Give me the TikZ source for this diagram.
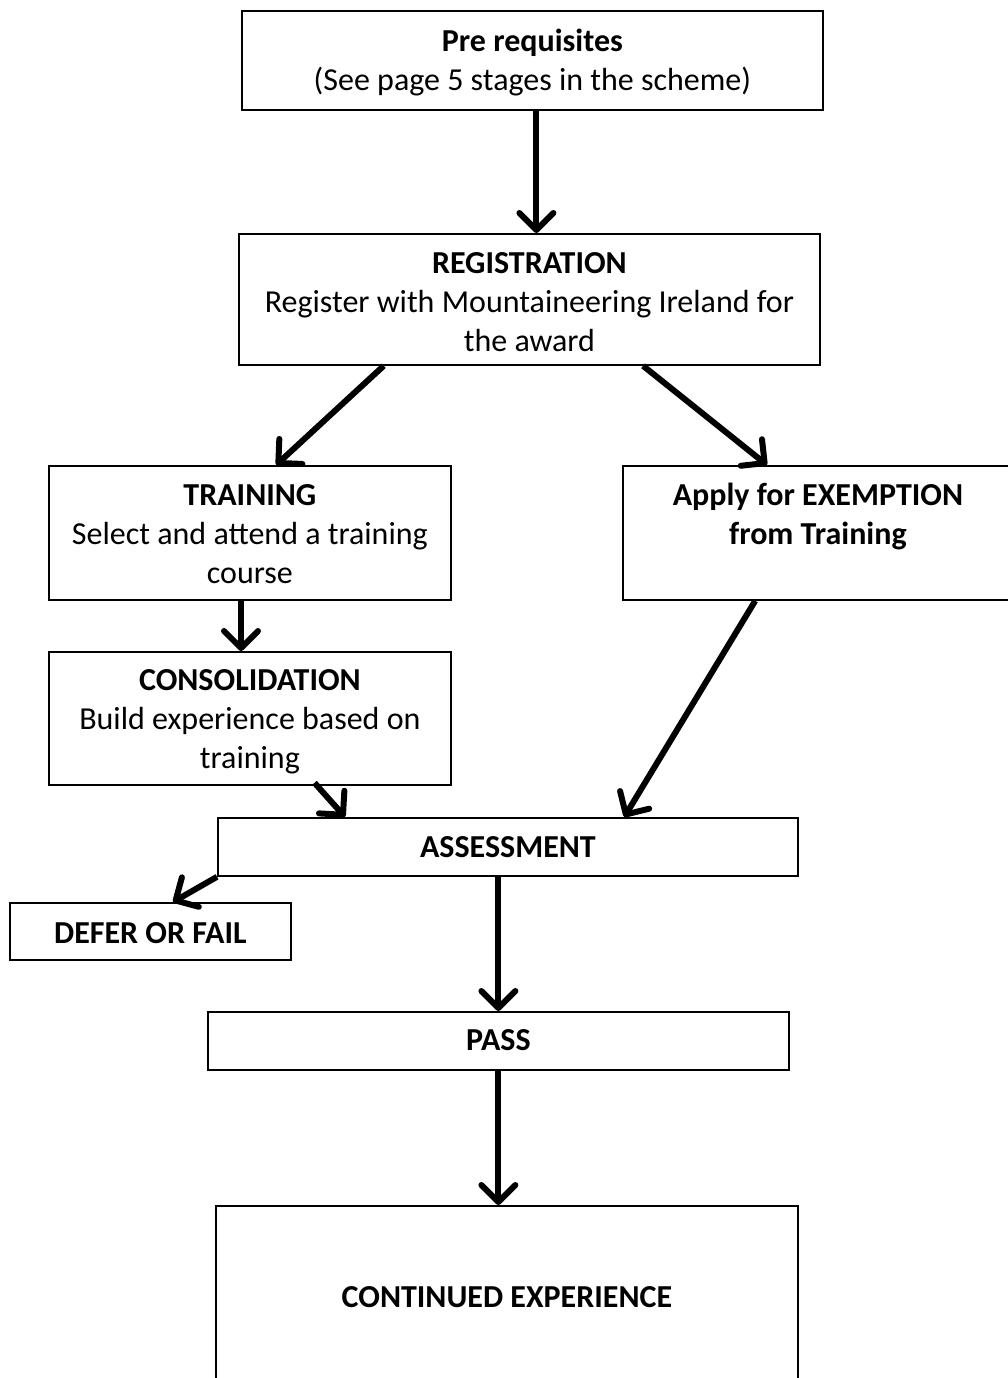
\documentclass[tikz,border=0pt]{standalone}
\usepackage{fontspec}
\setmainfont{Carlito}
\usetikzlibrary{calc, arrows.meta}

\tikzset{
  stage/.style={draw, line width=1.8pt, anchor=north west, align=center, inner sep=0pt,
    font=\fontsize{32}{39}\selectfont},
  flow/.style={line width=6pt, -{Straight Barb[length=17pt, width=34pt, round]}}
}

\begin{document}
\begin{tikzpicture}[x=1pt, y=-1pt]
  \useasboundingbox (0,0) rectangle (1007,1378);

  \node[stage, minimum width=581pt, text height=80pt, text depth=19pt] (pre) at (241,10)
    {\textbf{Pre requisites}\\(See page 5 stages in the scheme)};
  \node[stage, minimum width=581pt, text height=118pt, text depth=13pt] (reg) at (238,233)
    {\textbf{REGISTRATION}\\Register with Mountaineering Ireland for\\the award};
  \node[stage, minimum width=402pt, text height=118pt, text depth=16pt] (train) at (48,465)
    {\textbf{TRAINING}\\Select and attend a training\\course};
  \node[stage, minimum width=390pt, text height=79pt, text depth=55pt] (exempt) at (622,465)
    {\textbf{Apply for EXEMPTION}\\\textbf{from Training}};
  \node[stage, minimum width=402pt, text height=117pt, text depth=16pt] (cons) at (48,651)
    {\textbf{CONSOLIDATION}\\Build experience based on\\training};
  \node[stage, minimum width=580pt, text height=40pt, text depth=18pt] (assess) at (217,817)
    {\textbf{ASSESSMENT}};
  \node[stage, minimum width=281pt, text height=41pt, text depth=16pt] (defer) at (9,902)
    {\textbf{DEFER OR FAIL}};
  \node[stage, minimum width=581pt, text height=39pt, text depth=19pt] (pass) at (207,1011)
    {\textbf{PASS}};
  \node[stage, minimum width=582pt, text height=102pt, text depth=83pt] (cont) at (215,1205)
    {\textbf{CONTINUED EXPERIENCE}};

  \draw[flow] ($(pre.south)+(4,0)$) -- ($(pre.south |- reg.north)+(4,0)$);
  \draw[flow] ($(reg.south west)!0.25!(reg.south east)$) -- ($(train.north west)!0.565!(train.north east)$);
  \draw[flow] ($(reg.south west)!0.695!(reg.south east)$) -- ($(exempt.north west)!0.37!(exempt.north east)$);
  \draw[flow] (train.south -| 241,0) -- (cons.north -| 241,0);
  \draw[flow] ($(cons.south west)!0.66!(cons.south east)+(0,-3)$) -- ($(assess.north west)!0.22!(assess.north east)$);
  \draw[flow] ($(exempt.south west)!0.34!(exempt.south east)$) -- ($(assess.north west)!0.70!(assess.north east)$);
  \draw[flow] (assess.south west) -- ($(defer.north west)!0.58!(defer.north east)$);
  \draw[flow] (assess.south -| pass.south) -- (pass.north);
  \draw[flow] (pass.south) -- (pass.south |- cont.north);
\end{tikzpicture}
\end{document}
